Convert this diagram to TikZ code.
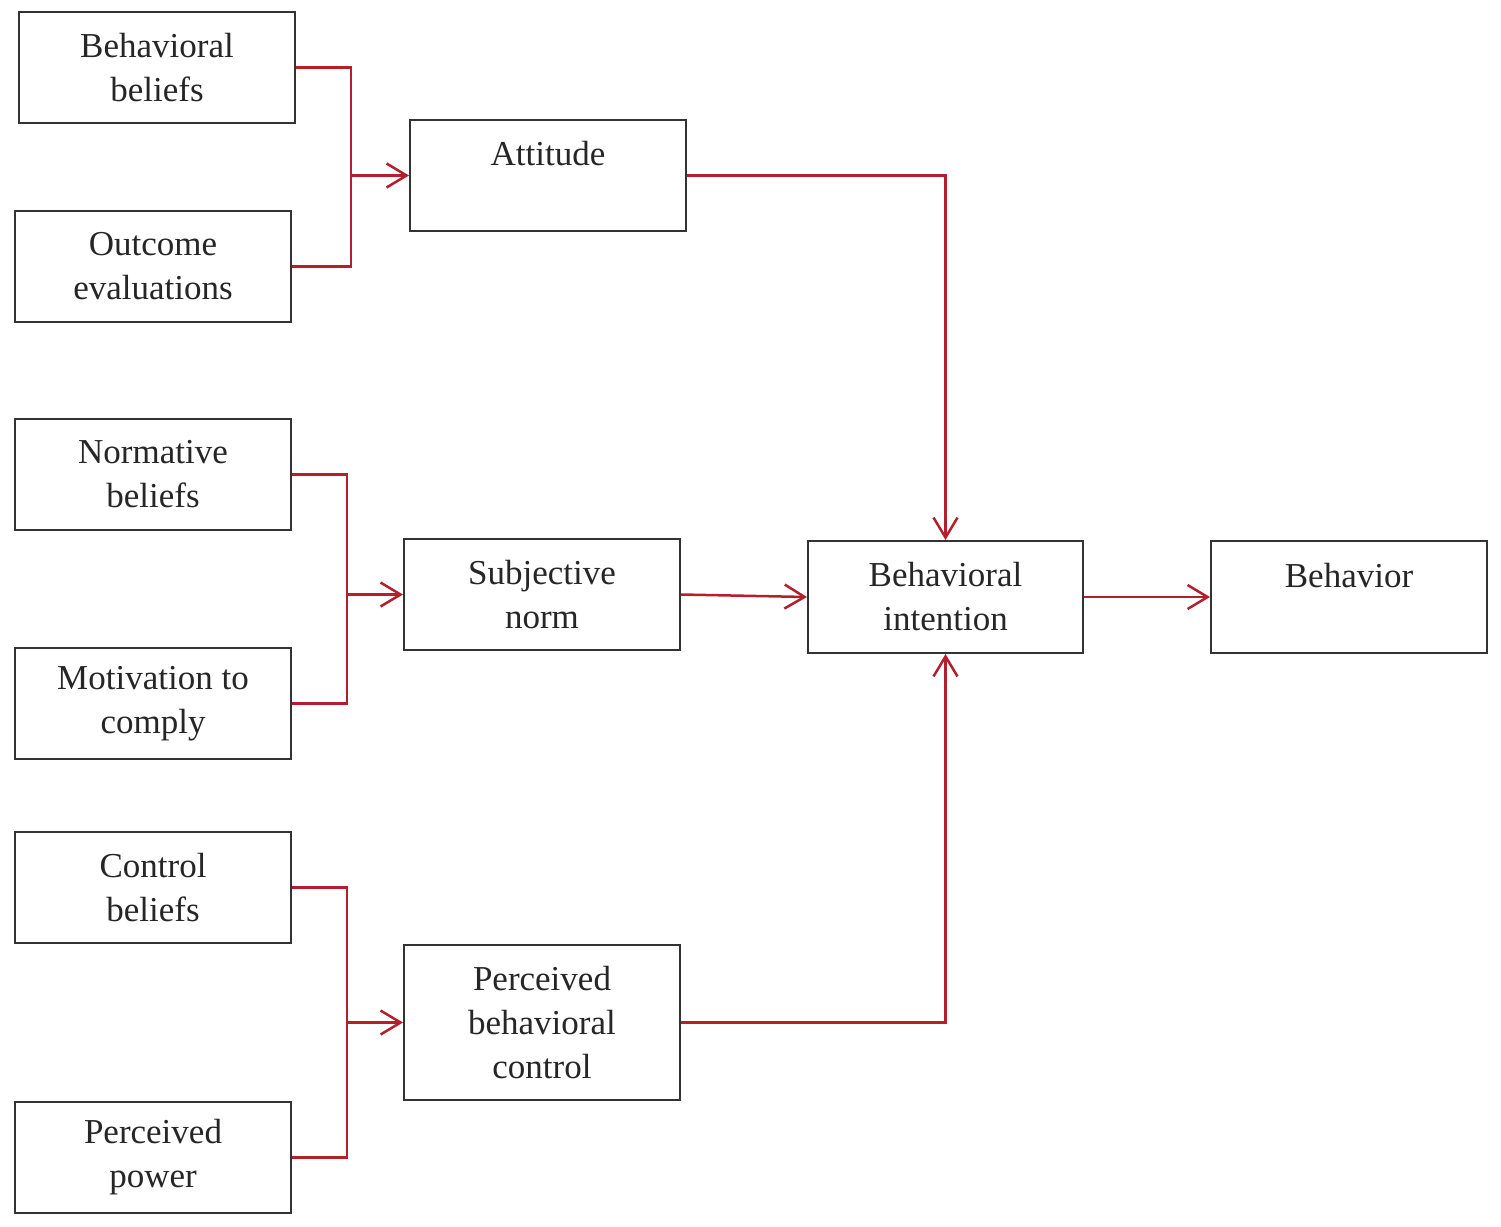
\documentclass[tikz,border=0pt]{standalone}
\usepackage{fontspec}
\setmainfont{Liberation Serif}
\usetikzlibrary{arrows.meta}
\definecolor{linkred}{HTML}{B3202C}
\definecolor{boxgray}{HTML}{333333}
\tikzset{
  box/.style={draw=boxgray, line width=2pt, rectangle, minimum width=276pt, minimum height=111pt,
    align=center, inner sep=0pt, font=\fontsize{35}{44}\selectfont, text=black!85},
  link/.style={draw=linkred, line width=2.5pt},
  arr/.style={link, -{Straight Barb[length=20pt,width=24pt,line width=2.5pt]}}
}
\begin{document}
\begin{tikzpicture}[x=1pt,y=-1pt]
\useasboundingbox (0,0) rectangle (1501,1226);
\fill[white] (0,0) rectangle (1501,1226);
\node[box] (bb) at (157,67.5) {Behavioral\\beliefs};
\node[box] (oe) at (153,266.5) {Outcome\\evaluations};
\node[box] (att) at (548,175.5) {Attitude\\\mbox{}};
\node[box] (nb) at (153,474.5) {Normative\\beliefs};
\node[box] (mc) at (153,703.5) {Motivation to\\comply};
\node[box] (sn) at (542,594.5) {Subjective\\norm};
\node[box, minimum width=275pt, minimum height=112pt] (bi) at (945.5,597) {Behavioral\\intention};
\node[box, minimum height=112pt] (beh) at (1349,597) {Behavior\\\mbox{}};
\node[box] (cb) at (153,887.5) {Control\\beliefs};
\node[box] (pp) at (153,1157.5) {Perceived\\power};
\node[box, minimum height=155pt] (pbc) at (542,1022.5) {Perceived\\behavioral\\control};
\coordinate (j1) at (351,175.5);
\coordinate (j2) at (347,594.5);
\coordinate (j3) at (347,1022.5);
\draw[link] (bb.east) -| (j1);
\draw[link] (oe.east) -| (j1);
\draw[arr] (j1) -- (att.west);
\draw[link] (nb.east) -| (j2);
\draw[link] (mc.east) -| (j2);
\draw[arr] (j2) -- (sn.west);
\draw[link] (cb.east) -| (j3);
\draw[link] (pp.east) -| (j3);
\draw[arr] (j3) -- (pbc.west);
\draw[arr] (att.east) -| (bi.north);
\draw[arr] (sn.east) -- (bi.west);
\draw[arr] (pbc.east) -| (bi.south);
\draw[arr] (bi.east) -- (beh.west);
\end{tikzpicture}
\end{document}
